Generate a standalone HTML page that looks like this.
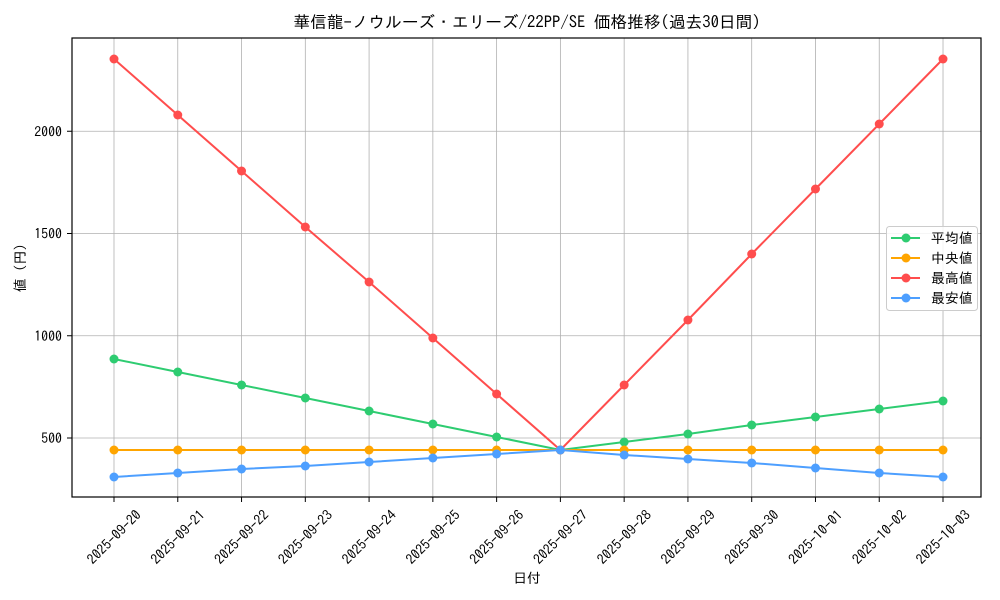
<!DOCTYPE html>
<html><head><meta charset="utf-8"><style>body{margin:0;background:#fff}svg{display:block}text{font-family:"IPAGothic","Noto Sans CJK JP",sans-serif;fill:#000}</style></head>
<body>
<svg id="s" width="1000" height="600" viewBox="0 0 1000 600" xmlns="http://www.w3.org/2000/svg"></svg>
<script>
const s=document.getElementById('s');let h='';
const L=72,R=981,T=38,B=497;
const X=i=>114+i*63.77;
const Y=v=>438-(v-500)*0.2045;
for(let i=0;i<14;i++)h+=`<line x1="${X(i)}" y1="${T}" x2="${X(i)}" y2="${B}" stroke="#b0b0b0" stroke-width="0.8"/>`;
for(const v of [500,1000,1500,2000])h+=`<line x1="${L}" y1="${Y(v)}" x2="${R}" y2="${Y(v)}" stroke="#b0b0b0" stroke-width="0.8"/>`;
const mx=[59,115,171,227,282,338,394,450,385,320,254,189,124,59];
const mean=[359,372,385,398,411,424,437,450,442,434,425,417,409,401];
const med=Array(14).fill(450);
const mn=[477,473,469,466,462,458,454,450,455,459,463,468,473,477];
const ser=[[mean,'#2ecc71'],[med,'#ffa500'],[mx,'#ff4d4d'],[mn,'#4d9fff']];
for(const [d,c] of ser){h+=`<polyline fill="none" stroke="${c}" stroke-width="2" points="${d.map((y,i)=>X(i)+','+y).join(' ')}"/>`;
for(let i=0;i<14;i++)h+=`<circle cx="${X(i)}" cy="${d[i]}" r="4.5" fill="${c}"/>`;}
h+=`<rect x="${L}" y="${T}" width="${R-L}" height="${B-T}" fill="none" stroke="#000" stroke-width="1.2"/>`;
const dates=['2025-09-20','2025-09-21','2025-09-22','2025-09-23','2025-09-24','2025-09-25','2025-09-26','2025-09-27','2025-09-28','2025-09-29','2025-09-30','2025-10-01','2025-10-02','2025-10-03'];
dates.forEach((d,i)=>{const x=X(i);h+=`<line x1="${x}" y1="${B}" x2="${x}" y2="${B+5}" stroke="#000"/>`;
h+=`<text x="${x}" y="542" font-size="13.9" text-anchor="middle" transform="rotate(-45 ${x} 537)">${d}</text>`;});
for(const v of [500,1000,1500,2000]){const y=Y(v);h+=`<line x1="${L-5}" y1="${y}" x2="${L}" y2="${y}" stroke="#000"/><text x="${L-10}" y="${y+5}" font-size="13.9" text-anchor="end">${v}</text>`;}
h+=`<text x="527" y="28" font-size="16.7" text-anchor="middle">華信龍-ノウルーズ・エリーズ/22PP/SE 価格推移(過去30日間)</text>`;
h+=`<text x="527" y="583" font-size="13.9" text-anchor="middle">日付</text>`;
h+=`<text x="0" y="0" font-size="13.9" text-anchor="middle" transform="translate(25 268) rotate(-90)">値 (円)</text>`;
h+=`<rect x="886.5" y="226.5" width="91" height="84" rx="3" fill="#fff" fill-opacity="0.85" stroke="#ccc"/>`;
const names=['平均値','中央値','最高値','最安値'];
ser.forEach(([d,c],i)=>{const y=238+i*20;h+=`<line x1="891" y1="${y}" x2="920" y2="${y}" stroke="${c}" stroke-width="2"/><circle cx="906" cy="${y}" r="4.5" fill="${c}"/><text x="931" y="${y+5}" font-size="13.9">${names[i]}</text>`;});
s.innerHTML=h;
</script>
</body></html>
